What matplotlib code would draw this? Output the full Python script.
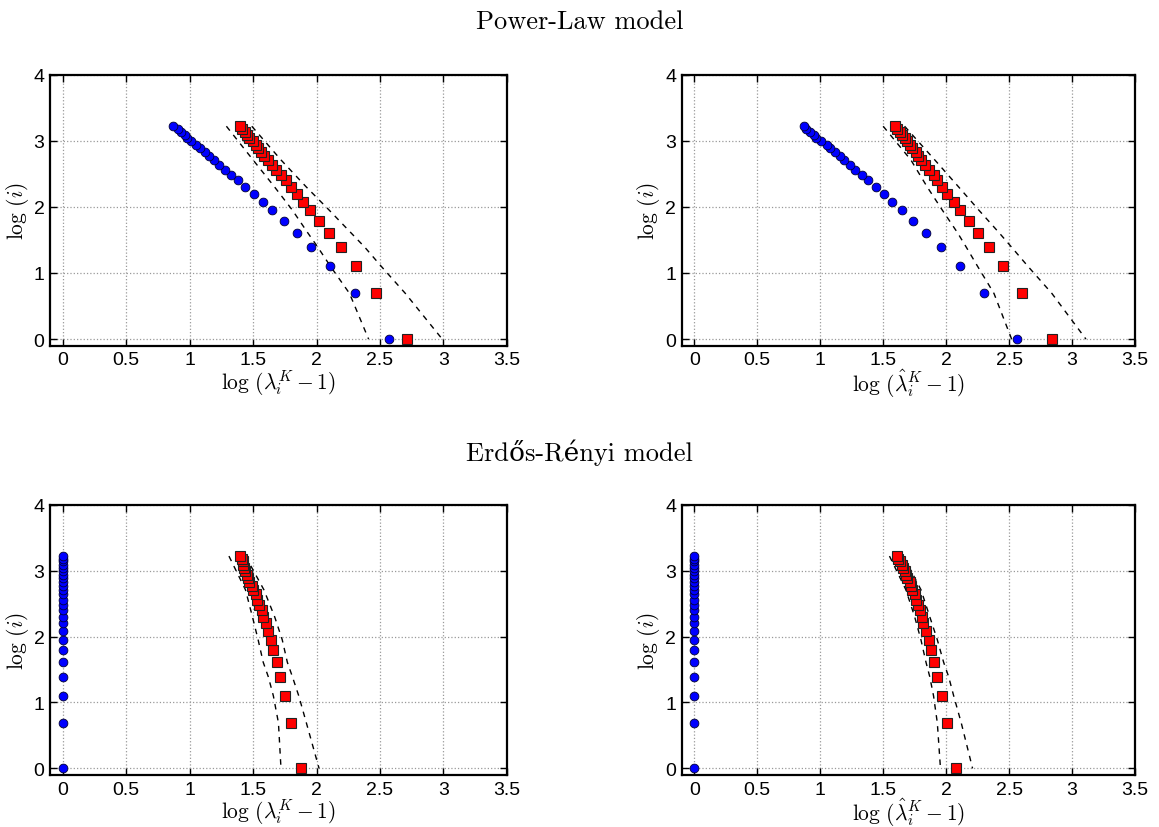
import matplotlib
matplotlib.use("Agg")
import matplotlib.pyplot as plt

plt.rcParams['mathtext.fontset'] = 'cm'
plt.rcParams['font.family'] = ['Liberation Sans', 'DejaVu Sans']

# log(i), i = 1..25
log_i = [0.00, 0.69, 1.10, 1.39, 1.61, 1.79, 1.95, 2.08, 2.20, 2.30, 2.40, 2.48, 2.56,
         2.64, 2.71, 2.77, 2.83, 2.89, 2.94, 3.00, 3.04, 3.09, 3.14, 3.18, 3.22]

# Power-Law model
pl_blue = [2.57, 2.30, 2.11, 1.96, 1.85, 1.74, 1.65, 1.58, 1.51, 1.44, 1.38, 1.33, 1.28,
           1.23, 1.19, 1.15, 1.12, 1.08, 1.05, 1.01, 0.98, 0.96, 0.93, 0.91, 0.87]
pl_red = [2.71, 2.47, 2.31, 2.19, 2.10, 2.02, 1.95, 1.89, 1.85, 1.80, 1.76, 1.72, 1.68,
          1.65, 1.62, 1.59, 1.56, 1.54, 1.52, 1.50, 1.47, 1.45, 1.44, 1.41, 1.40]
pl_hat_blue = [2.56, 2.30, 2.11, 1.96, 1.84, 1.74, 1.65, 1.57, 1.51, 1.44, 1.38, 1.33, 1.28,
               1.24, 1.19, 1.16, 1.12, 1.08, 1.05, 1.01, 0.97, 0.95, 0.92, 0.89, 0.87]
pl_hat_red = [2.84, 2.60, 2.45, 2.34, 2.25, 2.18, 2.11, 2.06, 2.01, 1.97, 1.93, 1.90, 1.86,
              1.83, 1.80, 1.78, 1.76, 1.73, 1.71, 1.69, 1.67, 1.65, 1.63, 1.61, 1.59]

# Erdos-Renyi model
er_blue = [0.0] * 25
er_red = [1.88, 1.80, 1.75, 1.71, 1.69, 1.66, 1.64, 1.62, 1.60, 1.58, 1.57, 1.55, 1.53,
          1.52, 1.50, 1.49, 1.47, 1.46, 1.45, 1.44, 1.43, 1.42, 1.42, 1.41, 1.40]
er_hat_blue = [0.0] * 25
er_hat_red = [2.08, 2.01, 1.97, 1.93, 1.90, 1.88, 1.86, 1.84, 1.82, 1.81, 1.79, 1.78, 1.76,
              1.75, 1.73, 1.72, 1.71, 1.69, 1.68, 1.67, 1.66, 1.65, 1.63, 1.62, 1.61]

# dashed bands, given at these log(i) levels
band_y = [3.22, 2.71, 2.30, 1.95, 1.61, 1.39, 1.10, 0.69, 0.00]
pl_lo = [1.29, 1.50, 1.67, 1.81, 1.93, 2.01, 2.11, 2.26, 2.41]
pl_hi = [1.49, 1.72, 1.92, 2.10, 2.27, 2.38, 2.51, 2.70, 2.99]
pl_hat_lo = [1.50, 1.72, 1.85, 1.97, 2.09, 2.16, 2.25, 2.38, 2.52]
pl_hat_hi = [1.67, 1.91, 2.10, 2.26, 2.42, 2.52, 2.65, 2.84, 3.11]
er_lo = [1.31, 1.44, 1.495, 1.54, 1.58, 1.62, 1.66, 1.70, 1.72]
er_hi = [1.44, 1.585, 1.67, 1.73, 1.77, 1.81, 1.86, 1.92, 2.02]
er_hat_lo = [1.55, 1.68, 1.75, 1.80, 1.84, 1.87, 1.90, 1.93, 1.955]
er_hat_hi = [1.66, 1.80, 1.87, 1.93, 1.98, 2.02, 2.06, 2.12, 2.21]

xticks = [0, 0.5, 1, 1.5, 2, 2.5, 3, 3.5]
xtick_labels = ['0', '0.5', '1', '1.5', '2', '2.5', '3', '3.5']
yticks = [0, 1, 2, 3, 4]

lab = r'$\log\,(\lambda_i^K - 1)$'
lab_hat = r'$\log\,(\hat{\lambda}_i^K - 1)$'

panels = [
    ([0.0431, 0.5813, 0.3943, 0.3273], pl_blue, pl_red, pl_lo, pl_hi, lab),
    ([0.5882, 0.5813, 0.3911, 0.3273], pl_hat_blue, pl_hat_red, pl_hat_lo, pl_hat_hi, lab_hat),
    ([0.0431, 0.0628, 0.3943, 0.3265], er_blue, er_red, er_lo, er_hi, lab),
    ([0.5882, 0.0628, 0.3911, 0.3265], er_hat_blue, er_hat_red, er_hat_lo, er_hat_hi, lab_hat),
]

fig = plt.figure(figsize=(11.59, 8.28), dpi=100)

for rect, blue, red, lo, hi, xl in panels:
    ax = fig.add_axes(rect)
    ax.plot(lo, band_y, '--', color='black', lw=1.0, dashes=(4, 4))
    ax.plot(hi, band_y, '--', color='black', lw=1.0, dashes=(4, 4))
    ax.plot(blue, log_i, 'o', color='#0000ff', markeredgecolor='#000033',
            markeredgewidth=0.6, markersize=6.3, clip_on=False, zorder=3)
    ax.plot(red, log_i, 's', color='#ff0000', markeredgecolor='#222222',
            markeredgewidth=0.8, markersize=6.5, clip_on=False, zorder=3)
    ax.set_xlim(-0.1, 3.5)
    ax.set_ylim(-0.1, 4)
    ax.set_xticks(xticks)
    ax.set_xticklabels(xtick_labels)
    ax.set_yticks(yticks)
    ax.grid(True, linestyle=':', color='#999999', linewidth=0.9)
    ax.tick_params(direction='in', top=True, right=True, length=5, width=1,
                   labelsize=14, pad=4)
    for s in ax.spines.values():
        s.set_linewidth(1.6)
    ax.set_xlabel(xl, fontsize=15.5, labelpad=-1)
    ax.set_ylabel(r'$\log\,(i)$', fontsize=15.5, labelpad=2)

fig.text(0.5, 1 - 22 / 828, 'Power-Law model', ha='center', va='center',
         fontsize=19, family=['cmr10', 'DejaVu Serif'])
fig.text(0.5, 1 - 453 / 828, 'Erdős-Rényi model', ha='center', va='center',
         fontsize=19, family=['cmr10', 'DejaVu Serif'])

fig.savefig('out.png', dpi=100)
